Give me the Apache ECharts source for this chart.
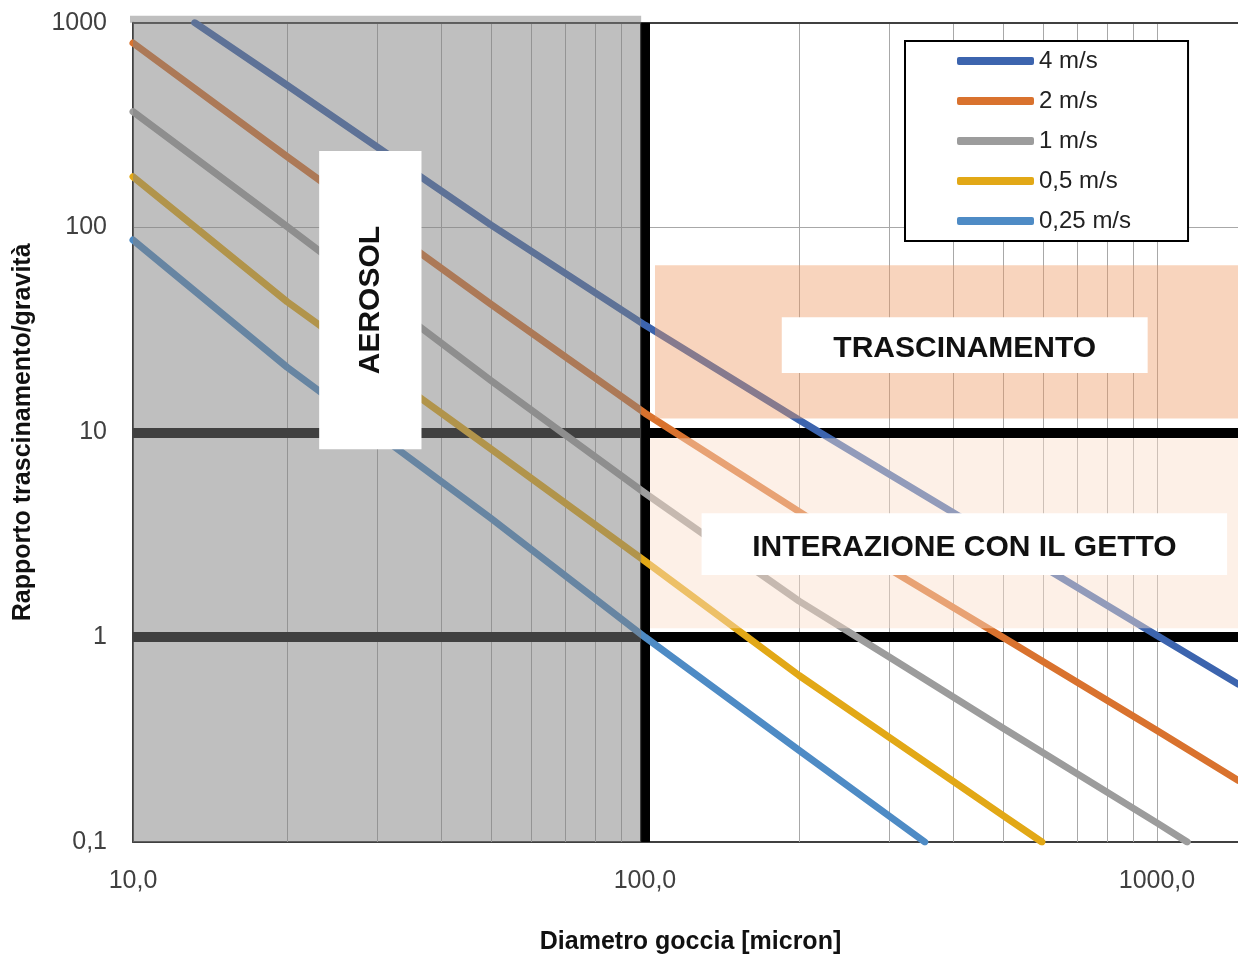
<!DOCTYPE html>
<html>
<head>
<meta charset="utf-8">
<script src="https://cdn.jsdelivr.net/npm/echarts@6/dist/echarts.min.js"></script>
<style>
html,body{margin:0;padding:0;background:#ffffff;overflow:hidden;}
#chart{width:1238px;height:962px;}
</style>
</head>
<body>
<div id="chart"></div>
<script>
// ---------------- DATA ----------------
const seriesNames = ['4 m/s', '2 m/s', '1 m/s', '0,5 m/s', '0,25 m/s'];

const diam4 = [13.2, 20, 50, 100, 200, 300, 500, 1000, 1440];
const ratio4 = [1000, 495, 103, 33.4, 11.5, 6.25, 2.9, 1.02, 0.59];

const diam2 = [10, 20, 50, 100, 200, 300, 500, 1000, 1440];
const ratio2 = [796, 222, 42.3, 12.4, 4.1, 2.15, 1.0, 0.35, 0.2];

const diam1 = [10, 20, 50, 100, 200, 300, 500, 1000, 1146];
const ratio1 = [368, 101, 17.9, 5.05, 1.5, 0.8, 0.36, 0.124, 0.1];

const diam05 = [10, 20, 50, 100, 200, 300, 500, 596];
const ratio05 = [177, 43.4, 8.3, 2.35, 0.65, 0.324, 0.135, 0.1];

const diam025 = [10, 20, 50, 100, 200, 352];
const ratio025 = [86.9, 20.8, 3.81, 1.0, 0.28, 0.1];

const xTickValues = [10, 100, 1000];
const xTickLabels = ['10,0', '100,0', '1000,0'];
const yTickValues = [0.1, 1, 10, 100, 1000];
const yTickLabels = ['0,1', '1', '10', '100', '1000'];

const minorGridX = [20, 30, 40, 50, 60, 70, 80, 90, 200, 300, 400, 500, 600, 700, 800, 900];
const thresholdY = [10, 1];
const thresholdX = [100];

// axis range (data units); the frame runs past the right edge of the picture
const xRange = [10, 1506];
const yRange = [0.1, 1000];

// annotation regions (data units): [xFrom, xTo, yFrom, yTo]
const aerosolZone = [10, 98.3, 0.1, 1000];
const dragBand = [104.6, 1506, 11.7, 65.5];
const jetBand = [102.3, 1506, 1.107, 9.37];
const regionLabels = ['TRASCINAMENTO', 'INTERAZIONE CON IL GETTO', 'AEROSOL'];
const dragBox = [185, 959, 19.5, 36.5];
const jetBox = [129, 1371, 2.01, 4.03];
const aerosolBox = [23.1, 36.6, 8.28, 236.5];

// ---------------- CHART ----------------
const FONT = "'Liberation Sans', Arial, sans-serif";
const colors = ['#3C64AE', '#D9722E', '#9C9C9C', '#E2A816', '#4E8BC5'];
const allDiam = [diam4, diam2, diam1, diam05, diam025];
const allRatio = [ratio4, ratio2, ratio1, ratio05, ratio025];

function findLabel(v, vals, labels) {
  for (let i = 0; i < vals.length; i++) {
    if (Math.abs(Math.log10(v) - Math.log10(vals[i])) < 1e-4) return labels[i];
  }
  return '';
}

function area(r, style, extra) {
  return [Object.assign({ xAxis: r[0], yAxis: r[2], itemStyle: style }, extra || {}), { xAxis: r[1], yAxis: r[3] }];
}

const lineSeries = seriesNames.map((name, i) => ({
  name: name,
  type: 'line',
  z: 3,
  data: allDiam[i].map((d, j) => [d, allRatio[i][j]]),
  showSymbol: false,
  symbol: 'none',
  smooth: false,
  color: colors[i],
  lineStyle: { width: 7, color: colors[i], cap: 'round', join: 'round' },
  emphasis: { disabled: true },
  animation: false
}));

const underSeries = {
  name: '_under',
  type: 'line',
  data: [],
  silent: true,
  animation: false,
  markLine: {
    silent: true,
    z: 1,
    animation: false,
    symbol: ['none', 'none'],
    label: { show: false },
    emphasis: { disabled: true },
    lineStyle: { type: 'solid' },
    data: [
      ...minorGridX.map(v => ({ xAxis: v, lineStyle: { color: '#a8a8a8', width: 1, type: 'solid' } })),
      { yAxis: 1000, lineStyle: { color: '#404040', width: 2, type: 'solid' } },
      ...thresholdY.map(v => ({ yAxis: v, lineStyle: { color: '#000000', width: 10, type: 'solid' } })),
      ...thresholdX.map(v => ({ xAxis: v, lineStyle: { color: '#000000', width: 10, type: 'solid' } }))
    ]
  }
};

const overSeries = {
  name: '_over',
  type: 'line',
  data: [],
  silent: true,
  animation: false,
  markArea: {
    silent: true,
    z: 4,
    animation: false,
    label: { show: false },
    emphasis: { disabled: true },
    data: [
      area(aerosolZone, { color: 'rgba(128,128,128,0.5)' }),
      area(dragBand, { color: 'rgba(238,153,97,0.42)' }),
      area(jetBand, { color: 'rgba(251,222,202,0.45)' })
    ]
  }
};

const boxLabel = { show: true, position: 'inside', color: '#111', fontFamily: FONT, fontWeight: 'bold', fontSize: 30 };
const boxSeries = {
  name: '_boxes',
  type: 'line',
  data: [],
  silent: true,
  animation: false,
  markArea: {
    silent: true,
    z: 5,
    animation: false,
    label: boxLabel,
    emphasis: { disabled: true },
    data: [
      area(dragBox, { color: '#ffffff' }, { name: regionLabels[0], label: Object.assign({}, boxLabel, { offset: [0, 4] }) }),
      area(jetBox, { color: '#ffffff' }, { name: regionLabels[1], label: Object.assign({}, boxLabel, { offset: [0, 4] }) }),
      area(aerosolBox, { color: '#ffffff' }, { name: regionLabels[2], label: Object.assign({}, boxLabel, { rotate: 90 }) })
    ]
  }
};

const chart = echarts.init(document.getElementById('chart'), null, { renderer: 'canvas', width: 1238, height: 962 });
chart.setOption({
  animation: false,
  backgroundColor: '#ffffff',
  grid: { left: 133, top: 22.7, right: -10, bottom: 120, containLabel: false, outerBoundsMode: 'none' },
  legend: {
    data: seriesNames,
    orient: 'vertical',
    left: 905,
    top: 41,
    icon: 'roundRect',
    itemWidth: 77,
    itemHeight: 8,
    itemGap: 16,
    padding: [8, 57, 8, 52],
    backgroundColor: '#ffffff',
    borderColor: '#000000',
    borderWidth: 2,
    borderRadius: 0,
    selectedMode: false,
    textStyle: { fontFamily: FONT, fontSize: 24, color: '#222222', lineHeight: 24 },
    z: 10
  },
  xAxis: {
    type: 'log',
    logBase: 10,
    min: xRange[0],
    max: xRange[1],
    name: 'Diametro goccia [micron]',
    nameLocation: 'middle',
    nameGap: 88,
    nameTextStyle: { fontFamily: FONT, fontWeight: 'bold', fontSize: 25, color: '#111', padding: [0, 0, 0, 0] },
    axisLine: { show: true, lineStyle: { color: '#404040', width: 2 } },
    axisTick: { show: false },
    axisLabel: {
      fontFamily: FONT, fontSize: 25, color: '#404040', margin: 27,
      formatter: v => findLabel(v, xTickValues, xTickLabels)
    },
    splitLine: { show: true, lineStyle: { color: '#a8a8a8', width: 1 } }
  },
  yAxis: {
    type: 'log',
    logBase: 10,
    min: yRange[0],
    max: yRange[1],
    name: 'Rapporto trascinamento/gravità',
    nameLocation: 'middle',
    nameGap: 97,
    nameTextStyle: { fontFamily: FONT, fontWeight: 'bold', fontSize: 25, color: '#111' },
    axisLine: { show: true, lineStyle: { color: '#404040', width: 2 } },
    axisTick: { show: false },
    axisLabel: {
      fontFamily: FONT, fontSize: 25, color: '#404040', margin: 26,
      formatter: v => findLabel(v, yTickValues, yTickLabels)
    },
    splitLine: { show: true, lineStyle: { color: '#a8a8a8', width: 1 } }
  },
  series: [underSeries, ...lineSeries, overSeries, boxSeries]
});

// small overhang of the grey aerosol zone above the plot frame
const pA = chart.convertToPixel({ xAxisIndex: 0, yAxisIndex: 0 }, [aerosolZone[0], aerosolZone[3]]);
const pB = chart.convertToPixel({ xAxisIndex: 0, yAxisIndex: 0 }, [aerosolZone[1], aerosolZone[3]]);
chart.setOption({
  graphic: [{
    type: 'rect', silent: true, z: 4,
    shape: { x: pA[0] - 3, y: pA[1] - 7, width: pB[0] - pA[0] + 3, height: 7 },
    style: { fill: 'rgba(128,128,128,0.5)' }
  }]
});
</script>
</body>
</html>
